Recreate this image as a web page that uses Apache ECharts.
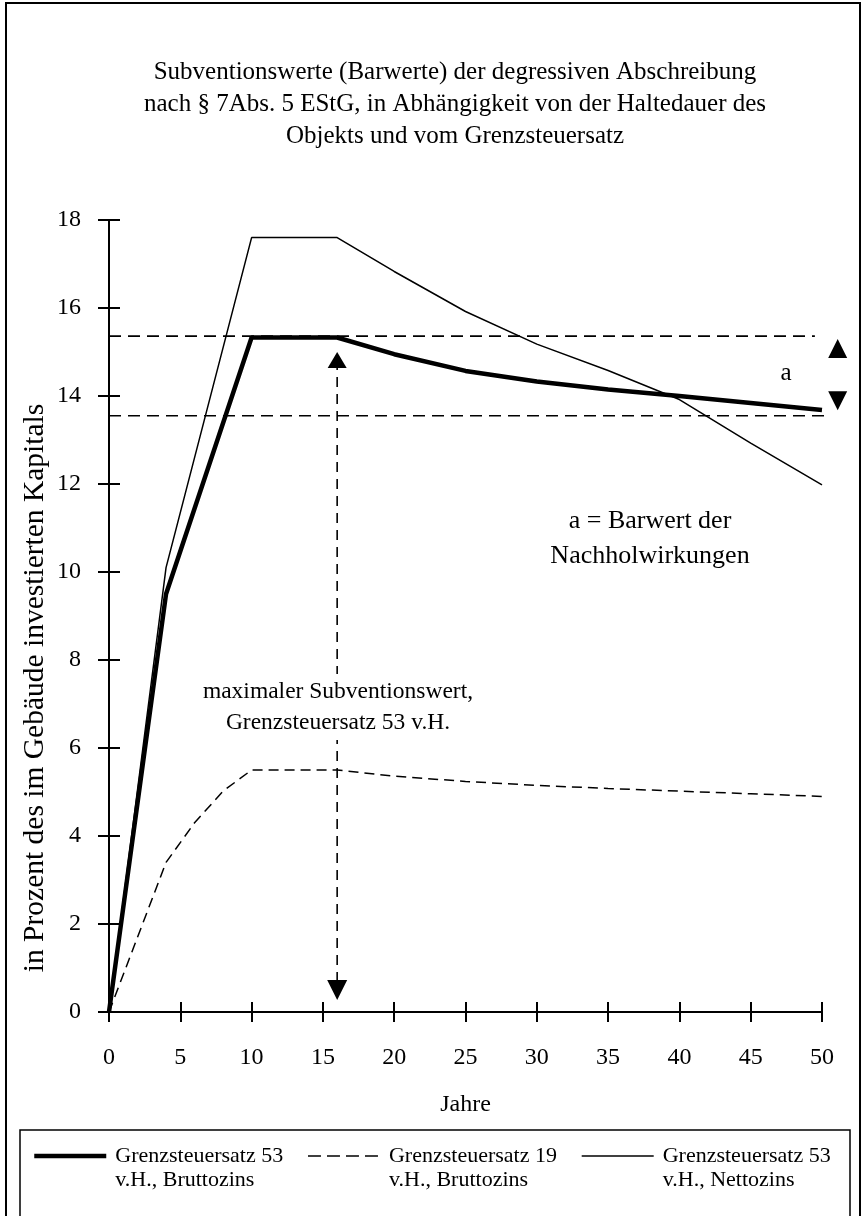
<!DOCTYPE html>
<html><head><meta charset="utf-8">
<script src="https://cdn.jsdelivr.net/npm/echarts@6/dist/echarts.min.js"></script>
<style>html,body{margin:0;padding:0;background:#fff}#c{width:863px;height:1216px}</style>
</head><body><div id="c"></div>
<script>
// ---- data ----
const years53 = [0, 4, 10, 16, 20, 25, 30, 35, 40, 45, 50];
const brutto53 = [0, 9.5, 15.33, 15.33, 14.95, 14.57, 14.33, 14.15, 14.0, 13.84, 13.68];
const netto53 = [0, 10.1, 17.6, 17.6, 16.83, 15.92, 15.18, 14.58, 13.92, 12.93, 11.98];
const years19 = [0, 4, 6, 8, 10, 16, 20, 25, 30, 35, 40, 45, 50];
const brutto19 = [0, 3.4, 4.3, 5.02, 5.5, 5.5, 5.36, 5.24, 5.15, 5.08, 5.02, 4.96, 4.9];
const refUpper = [[0, 15.36], [49.5, 15.36]];
const refLower = [[0, 13.55], [50.9, 13.55]];
const arrowMax = [[16, 14.82], [16, 0.5]];
const arrowA = [[51.1, 15.08], [51.1, 13.89]];
const xTickLabels = ['0','5','10','15','20','25','30','35','40','45','50'];
const yTickLabels = ['0','2','4','6','8','10','12','14','16','18'];
const seriesNames = ['Grenzsteuersatz 53\nv.H., Bruttozins', 'Grenzsteuersatz 19\nv.H., Bruttozins', 'Grenzsteuersatz 53\nv.H., Nettozins'];

const FONT = 'Liberation Serif';
const pair = (xs, ys) => xs.map((x, i) => [x, ys[i]]);

const chart = echarts.init(document.getElementById('c'), null, {renderer: 'canvas'});

const baseX = {type: 'value', min: 0, max: 50, interval: 5, splitLine: {show: false}};
const baseY = {type: 'value', min: 0, max: 18, interval: 2, splitLine: {show: false}};

chart.setOption({
  animation: false,
  backgroundColor: '#fff',
  grid: {left: 109, right: 41, top: 220, bottom: 204, containLabel: false},
  xAxis: [
    Object.assign({}, baseX, {
      position: 'bottom',
      axisLine: {show: true, lineStyle: {color: '#000', width: 2}},
      axisTick: {show: true, length: 10, lineStyle: {color: '#000', width: 2}},
      axisLabel: {margin: 34, fontSize: 24, fontFamily: FONT, color: '#000',
        formatter: v => xTickLabels[Math.round(v / 5)]},
      name: 'Jahre', nameLocation: 'middle', nameGap: 81,
      nameTextStyle: {fontSize: 24, fontFamily: FONT, color: '#000'}
    }),
    Object.assign({}, baseX, {
      position: 'bottom',
      axisLine: {show: false},
      axisTick: {show: true, inside: true, length: 10, lineStyle: {color: '#000', width: 2}},
      axisLabel: {show: false}
    })
  ],
  yAxis: [
    Object.assign({}, baseY, {
      position: 'left',
      axisLine: {show: true, lineStyle: {color: '#000', width: 2}},
      axisTick: {show: true, length: 11, lineStyle: {color: '#000', width: 2}},
      axisLabel: {margin: 28, fontSize: 24, fontFamily: FONT, color: '#000',
        formatter: v => yTickLabels[Math.round(v / 2)]}
    }),
    Object.assign({}, baseY, {
      position: 'left',
      axisLine: {show: false},
      axisTick: {show: true, inside: true, length: 11, lineStyle: {color: '#000', width: 2}},
      axisLabel: {show: false}
    })
  ],
  legend: {
    data: [
      {name: seriesNames[0], lineStyle: {width: 4.5, color: '#000'}},
      {name: seriesNames[1], lineStyle: {width: 1.5, color: '#000', type: [13, 6]}},
      {name: seriesNames[2], lineStyle: {width: 1.5, color: '#000'}}
    ],
    left: 32, top: 1120, padding: 0,
    itemWidth: 72, itemHeight: 14, itemGap: 24,
    itemStyle: {opacity: 0},
    formatter: name => '\n' + name,
    textStyle: {fontSize: 22, fontFamily: FONT, color: '#000', lineHeight: 24, padding: [0, 0, 0, 4]}
  },
  series: [
    {type: 'line', data: refUpper, showSymbol: false, symbol: 'none', clip: false, silent: true, z: 1,
      lineStyle: {color: '#000', width: 1.6, type: [12, 7]}},
    {type: 'line', data: refLower, showSymbol: false, symbol: 'none', clip: false, silent: true, z: 1,
      lineStyle: {color: '#000', width: 1.6, type: [12, 7]}},
    {type: 'line', name: seriesNames[0], data: pair(years53, brutto53), symbol: 'none', z: 3,
      lineStyle: {color: '#000', width: 4.5, cap: 'butt'}, itemStyle: {color: '#000'}},
    {type: 'line', name: seriesNames[1], data: pair(years19, brutto19), symbol: 'none', z: 3,
      lineStyle: {color: '#000', width: 1.5, type: [10, 6]}, itemStyle: {color: '#000'}},
    {type: 'line', name: seriesNames[2], data: pair(years53, netto53), symbol: 'none', z: 3,
      lineStyle: {color: '#000', width: 1.5}, itemStyle: {color: '#000'}},
    {type: 'line', clip: false, silent: true, z: 2,
      data: [
        {value: arrowMax[0], symbol: 'triangle', symbolSize: [19, 16], symbolRotate: 0},
        {value: arrowMax[1], symbol: 'triangle', symbolSize: [20, 20], symbolRotate: 180}
      ],
      showSymbol: true, showAllSymbol: true,
      lineStyle: {color: '#000', width: 1.6, type: [10, 7]}, itemStyle: {color: '#000', borderWidth: 0}},
    {type: 'line', clip: false, silent: true, z: 2,
      data: [
        {value: arrowA[0], symbol: 'triangle', symbolSize: [19, 19], symbolRotate: 0},
        {value: arrowA[1], symbol: 'triangle', symbolSize: [19, 19], symbolRotate: 180}
      ],
      showSymbol: true, showAllSymbol: true,
      lineStyle: {color: '#bbb', width: 1, type: [1, 3]}, itemStyle: {color: '#000', borderWidth: 0}}
  ],
  graphic: [
    {type: 'rect', z: 0, shape: {x: 6, y: 3, width: 854, height: 1240},
      style: {fill: 'none', stroke: '#000', lineWidth: 2}},
    {type: 'rect', z: 0, shape: {x: 20, y: 1130, width: 830, height: 120},
      style: {fill: 'none', stroke: '#000', lineWidth: 1.5}},
    {type: 'text', z: 10, x: 455, y: 56,
      style: {text: 'Subventionswerte (Barwerte) der degressiven Abschreibung\nnach § 7Abs. 5 EStG, in Abhängigkeit von der Haltedauer des\nObjekts und vom Grenzsteuersatz',
        font: '25px "Liberation Serif"', fill: '#000', align: 'center', verticalAlign: 'top', lineHeight: 32}},
    {type: 'text', z: 10, x: 35, y: 688, rotation: Math.PI / 2,
      style: {text: 'in Prozent des im Gebäude investierten Kapitals',
        font: '29.5px "Liberation Serif"', fill: '#000', align: 'center', verticalAlign: 'middle'}},
    {type: 'text', z: 10, x: 650, y: 504,
      style: {text: 'a = Barwert der\nNachholwirkungen',
        font: '26px "Liberation Serif"', fill: '#000', align: 'center', verticalAlign: 'top', lineHeight: 35}},
    {type: 'text', z: 10, x: 338, y: 674,
      style: {text: 'maximaler Subventionswert,\nGrenzsteuersatz 53 v.H.',
        font: '23.5px "Liberation Serif"', fill: '#000', align: 'center', verticalAlign: 'top', lineHeight: 31,
        backgroundColor: '#fff', padding: [2, 4, 2, 4]}},
    {type: 'text', z: 10, x: 786, y: 373,
      style: {text: 'a', font: '25px "Liberation Serif"', fill: '#000', align: 'center', verticalAlign: 'middle'}}
  ]
});
</script>
</body></html>
